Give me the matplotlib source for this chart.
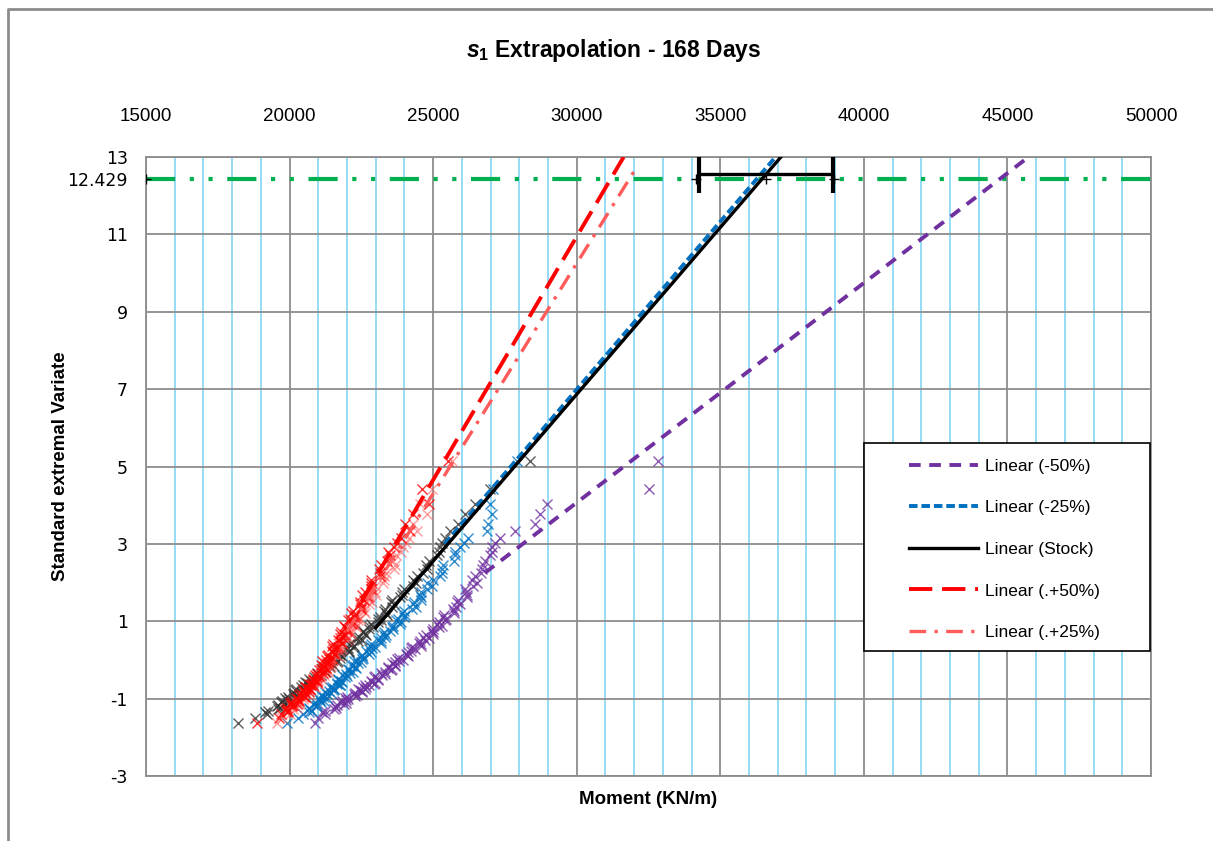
import matplotlib

matplotlib.use("Agg")
import matplotlib.pyplot as plt
from matplotlib.lines import Line2D
from matplotlib.patches import Rectangle
from matplotlib.ticker import MultipleLocator

plt.rcParams["mathtext.fontset"] = "custom"
plt.rcParams["mathtext.it"] = "Liberation Sans:bold:italic"
plt.rcParams["mathtext.rm"] = "Liberation Sans:bold"

# standard extremal variate levels shared by all series
variate = [-1.64, -1.49, -1.39, -1.32, -1.26, -1.20, -1.14, -1.09, -1.04, -0.99,
           -0.94, -0.89, -0.84, -0.79, -0.74, -0.69, -0.64, -0.59, -0.54, -0.48,
           -0.42, -0.36, -0.30, -0.24, -0.18, -0.12, -0.06, 0.00, 0.06, 0.13,
           0.20, 0.27, 0.34, 0.41, 0.48, 0.56, 0.64, 0.72, 0.80, 0.89,
           0.98, 1.07, 1.17, 1.27, 1.38, 1.50, 1.62, 1.76, 1.91, 2.07,
           2.25, 2.45, 2.70, 2.91, 3.03, 3.16, 3.32, 3.51, 3.76, 4.02,
           4.43, 5.13]
# extra levels in the dense middle of the sample
variate_mid = [-1.35, -1.23, -1.17, -1.11, -1.06, -1.01, -0.96, -0.91, -0.86, -0.81,
               -0.76, -0.71, -0.66, -0.61, -0.56, -0.51, -0.45, -0.39, -0.33, -0.27,
               -0.21, -0.15, -0.09, -0.03, 0.03, 0.09, 0.16, 0.23, 0.30, 0.37,
               0.44, 0.52, 0.60, 0.68, 0.76, 0.84, 0.93, 1.02, 1.12, 1.22,
               1.32, 1.44, 1.56, 1.69, 1.83, 1.99, 2.16, 2.35, 2.57, 2.80]

moment_stock = [18215, 18800, 19210, 19250, 19600, 19560, 19850, 19690, 19910, 19830,
                20150, 20120, 20390, 20190, 20450, 20390, 20700, 20590, 20750, 20680,
                21030, 21000, 21270, 21120, 21400, 21380, 21650, 21490, 21760, 21740,
                22070, 22000, 22210, 22080, 22380, 22360, 22660, 22540, 22770, 22750,
                23070, 23070, 23380, 23270, 23560, 23520, 23840, 23920, 24280, 24290,
                24630, 24750, 25150, 25250, 25300, 25400, 25600, 25870, 26110, 26460,
                26980, 28380]
moment_stock_mid = [19150, 19670, 19590, 19900, 19720, 19970, 19930, 20220, 20160, 20420,
                    20230, 20520, 20480, 20740, 20550, 20850, 20860, 21080, 20970, 21210,
                    21200, 21530, 21440, 21670, 21530, 21810, 21760, 22080, 22050, 22240,
                    22140, 22510, 22420, 22620, 22550, 22900, 22850, 23170, 23140, 23360,
                    23310, 23650, 23580, 23930, 23980, 24390, 24430, 24790, 24870, 25210]

moment_p50 = [18870, 19620, 19690, 19950, 19830, 20070, 20240, 20100, 20280, 20230,
              20500, 20410, 20660, 20480, 20660, 20560, 20820, 20780, 20970, 20810,
              21030, 20960, 21230, 21090, 21190, 21100, 21360, 21250, 21490, 21320,
              21510, 21500, 21690, 21500, 21770, 21740, 21920, 21800, 22000, 21890,
              22210, 22100, 22270, 22210, 22480, 22460, 22730, 22630, 22840, 22850,
              23150, 23170, 23490, 23620, 23730, 23870, 24200, 24020, 24300, 24850,
              24600, 25530]
moment_p50_mid = [19920, 19920, 20110, 20020, 20320, 20280, 20520, 20330, 20550, 20510,
                  20720, 20520, 20750, 20690, 20970, 20830, 20950, 20890, 21150, 21040,
                  21280, 21170, 21310, 21140, 21380, 21300, 21560, 21480, 21630, 21490,
                  21820, 21670, 21810, 21760, 22010, 21940, 22180, 22040, 22240, 22140,
                  22470, 22440, 22600, 22520, 22850, 22830, 23160, 23100, 23380, 23440]

moment_p25 = [19550, 19750, 20000, 19940, 20110, 20040, 20310, 20310, 20280, 20570,
              20460, 20620, 20480, 20760, 20710, 20900, 20760, 20940, 20800, 21080,
              21090, 21030, 21320, 21190, 21380, 21240, 21430, 21550, 21440, 21620,
              21490, 21810, 21720, 21870, 21780, 22080, 21940, 22090, 22020, 22300,
              22280, 22440, 22350, 22580, 22550, 22870, 22800, 22980, 22990, 23300,
              23370, 23670, 23720, 23950, 24050, 24150, 24450, 24300, 24800, 24550,
              24950, 25650]
moment_p25_mid = [19890, 20260, 20100, 20300, 20190, 20480, 20450, 20650, 20500, 20690,
                  20570, 20860, 20780, 21020, 20860, 20990, 20920, 21190, 21110, 21340,
                  21260, 21430, 21230, 21480, 21400, 21690, 21570, 21730, 21610, 21800,
                  21680, 21990, 21910, 22150, 22080, 22310, 22150, 22370, 22340, 22610,
                  22460, 22750, 22780, 23010, 22880, 23250, 23280, 23620, 23590, 23890]

moment_m25 = [19900, 20300, 20470, 20780, 20670, 20910, 20800, 21110, 21050, 21300,
              21140, 21310, 21240, 21520, 21540, 21460, 21770, 21640, 21780, 21700,
              22000, 21970, 22220, 22040, 22260, 22220, 22490, 22320, 22560, 22530,
              22850, 22760, 22970, 22840, 23180, 23180, 23360, 23290, 23610, 23590,
              23890, 23790, 24010, 24000, 24390, 24320, 24560, 24590, 24960, 25000,
              25300, 25330, 25770, 25950, 26080, 26200, 26860, 26920, 27040, 26980,
              27100, 27910]
moment_m25_mid = [20690, 20670, 20940, 20910, 21190, 21020, 21210, 21110, 21440, 21360,
                  21540, 21420, 21770, 21640, 21820, 21690, 21920, 21810, 22120, 22080,
                  22300, 22160, 22390, 22250, 22520, 22520, 22780, 22670, 22860, 22810,
                  23180, 23070, 23330, 23240, 23500, 23550, 23840, 23710, 23990, 23900,
                  24250, 24280, 24570, 24530, 24770, 24800, 25230, 25290, 25710, 25770]

moment_m50 = [20900, 21000, 21230, 21230, 21560, 21590, 21880, 21760, 21980, 21930,
              22290, 22230, 22520, 22440, 22640, 22550, 22760, 22960, 22850, 23080,
              22990, 23320, 23310, 23580, 23430, 23670, 23660, 23940, 23800, 24100,
              24140, 24360, 24250, 24560, 24540, 24850, 24740, 24980, 25000, 25300,
              25200, 25460, 25390, 25740, 25800, 25830, 26170, 26140, 26390, 26350,
              26660, 26720, 26980, 27040, 27150, 27330, 27850, 28550, 28720, 28960,
              32500, 32840]
moment_m50_mid = [21130, 21620, 21650, 21950, 21820, 22050, 22000, 22350, 22290, 22520,
                  22370, 22660, 22640, 22930, 22880, 23080, 22950, 23230, 23200, 23520,
                  23440, 23670, 23570, 23800, 23730, 24110, 24040, 24240, 24220, 24590,
                  24520, 24720, 24630, 24980, 24950, 25220, 25150, 25400, 25350, 25740,
                  25680, 25930, 25880, 26170, 26100, 26520, 26460, 26700, 26790, 27060]

# linear trend lines (start / end points)
trend_m50 = ([26800, 45734], [2.25, 13.0])
trend_m25 = ([25400, 36923], [3.0, 13.0])
trend_stock = ([23000, 37168], [0.83, 13.05])
trend_p50 = ([22500, 31633], [1.51, 13.0])
trend_p25 = ([22000, 32098], [0.73, 12.75])

target = 12.429
target_x = [15000, 34150, 36580, 38950]
err_center, err_y, err_lo, err_hi = 36600, 12.57, 34255, 38941

C_PURPLE = "#7030A0"
C_BLUE = "#0070C0"
C_RED = "#FF0000"
C_PINK = "#FF5B5B"

fig = plt.figure(figsize=(12.13, 8.41), dpi=100)
ax = fig.add_axes([0.1204, 0.0773, 0.8285, 0.736])

mk = dict(marker="x", linestyle="none", markersize=7.5, markeredgewidth=1.0)
ax.plot(moment_m50 + moment_m50_mid, variate + variate_mid, color=C_PURPLE, alpha=0.8, **mk)
ax.plot(moment_m25 + moment_m25_mid, variate + variate_mid, color=C_BLUE, alpha=0.8, **mk)
ax.plot(moment_stock + moment_stock_mid, variate + variate_mid, color="#333333", alpha=0.8, **mk)
ax.plot(moment_p25 + moment_p25_mid, variate + variate_mid, color=C_PINK, alpha=0.6, **mk)
ax.plot(moment_p50 + moment_p50_mid, variate + variate_mid, color=C_RED, alpha=0.8, **mk)

ax.plot(*trend_m50, color=C_PURPLE, lw=2.8, dashes=(3, 2.2), label="Linear (-50%)", zorder=4)
ax.plot(*trend_m25, color=C_BLUE, lw=2.8, dashes=(2.2, 1), label="Linear (-25%)", zorder=4)
ax.plot(*trend_stock, color="black", lw=2.4, label="Linear (Stock)", zorder=5)
ax.plot(*trend_p50, color=C_RED, lw=2.8, dashes=(6, 2.5), label="Linear (.+50%)", zorder=4)
ax.plot(*trend_p25, color=C_PINK, lw=2.4, dashes=(5, 2.5, 1, 2.5), label="Linear (.+25%)", zorder=4)

ax.axhline(target, color="#00B050", lw=3, dashes=(7, 3.5, 1, 3.5, 1, 3.5), zorder=3)
ax.plot(target_x, [target] * len(target_x), "+", color="black", markersize=7, mew=1, zorder=6)
ax.errorbar([err_center], [err_y], xerr=[[err_center - err_lo], [err_hi - err_center]],
            fmt="none", ecolor="black", elinewidth=2.4, capsize=14, capthick=3, zorder=6)

ax.set_xlim(15000, 50000)
ax.set_ylim(-3, 13)
ax.xaxis.set_major_locator(MultipleLocator(5000))
ax.xaxis.set_minor_locator(MultipleLocator(1000))
ax.xaxis.tick_top()
yt = [-3, -1, 1, 3, 5, 7, 9, 11, target, 13]
ax.set_yticks(yt)
ax.set_yticklabels(["-3", "-1", "1", "3", "5", "7", "9", "11", "12.429", "13"],
                   fontsize=12.5, family="DejaVu Sans")
ax.tick_params(axis="x", which="both", length=0, labelsize=13.5, pad=23)
ax.tick_params(axis="y", length=0, pad=13)
for lab in ax.get_xticklabels():
    lab.set_family("Liberation Sans")

ax.grid(True, which="minor", axis="x", color="#8ED8F4", lw=1.3)
ax.grid(True, which="major", axis="x", color="#8C8C8C", lw=1.3)
ax.grid(True, which="major", axis="y", color="#8C8C8C", lw=1.3)
ax.get_ygridlines()[yt.index(target)].set_visible(False)
ax.set_axisbelow(True)
for sp in ax.spines.values():
    sp.set_color("#8C8C8C")
    sp.set_linewidth(1.3)

fig.text(0.506, 0.94, "$s_{\\mathit{1}}$ Extrapolation - 168 Days", ha="center", va="center",
         fontsize=16.5, fontweight="bold", family="Liberation Sans")
fig.text(0.534, 0.049, "Moment (KN/m)", ha="center", va="center",
         fontsize=13.5, fontweight="bold", family="Liberation Sans")
fig.text(0.05, 0.446, "Standard extremal Variate", ha="center", va="center", rotation=90,
         fontsize=13.5, fontweight="bold", family="Liberation Sans")

# legend box drawn separately so the entries can sit well inside it
ax.add_patch(Rectangle((0.714, 0.202), 0.285, 0.336, transform=ax.transAxes,
                       facecolor="white", edgecolor="black", lw=1.2, zorder=7))
leg = ax.legend(loc="upper left", bbox_to_anchor=(0.759, 0.5125), frameon=False,
                fontsize=12.5, handlelength=4.0, handletextpad=0.4, labelspacing=1.52,
                borderpad=0, borderaxespad=0)
leg.set_zorder(8)
for t in leg.get_texts():
    t.set_family("Liberation Sans")

# outer chart border (left and top edges visible)
fig.add_artist(Line2D([0.0066, 0.0066, 1.0], [0.0, 0.9893, 0.9893], color="#8C8C8C", lw=2))

fig.savefig("out.png", dpi=100, facecolor="white")
